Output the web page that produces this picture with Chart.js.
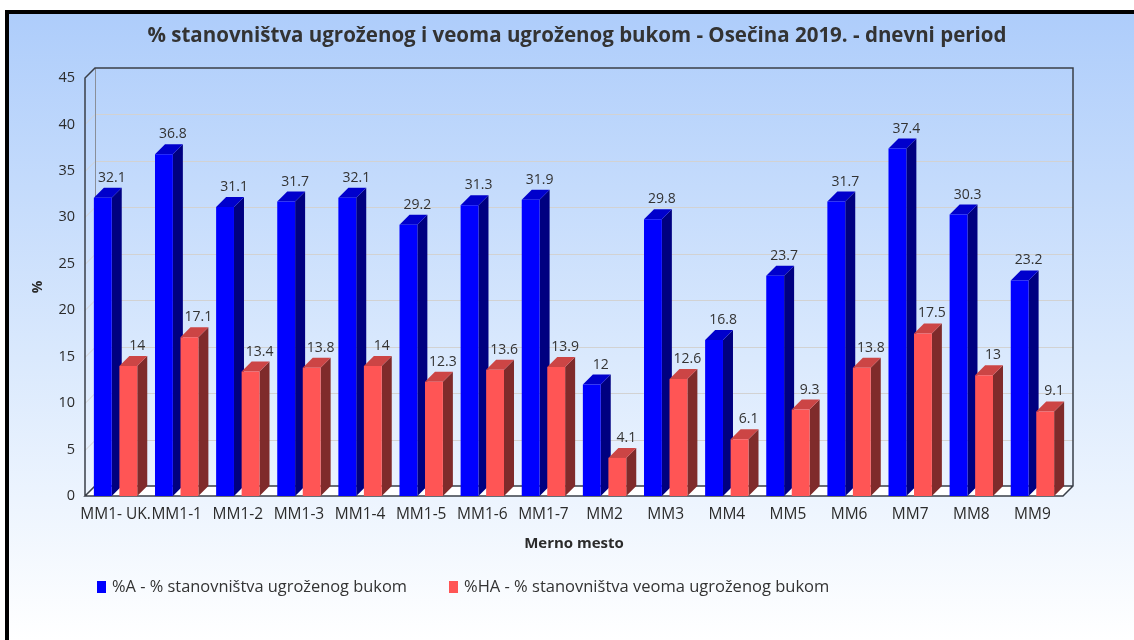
<!DOCTYPE html>
<html>
<head>
<meta charset="utf-8">
<script src="https://cdn.jsdelivr.net/npm/chart.js@4/dist/chart.umd.min.js"></script>
<style>
  html, body { margin: 0; padding: 0; background: #ffffff; }
  #wrap { position: relative; width: 1134px; height: 640px; }
  canvas { display: block; }
</style>
</head>
<body>
<div id="wrap"><canvas id="c" width="1134" height="640"></canvas></div>
<script>
const categories = ['MM1- UK.', 'MM1-1', 'MM1-2', 'MM1-3', 'MM1-4', 'MM1-5', 'MM1-6', 'MM1-7',
                    'MM2', 'MM3', 'MM4', 'MM5', 'MM6', 'MM7', 'MM8', 'MM9'];
const seriesA  = [32.1, 36.8, 31.1, 31.7, 32.1, 29.2, 31.3, 31.9, 12, 29.8, 16.8, 23.7, 31.7, 37.4, 30.3, 23.2];
const seriesHA = [14, 17.1, 13.4, 13.8, 14, 12.3, 13.6, 13.9, 4.1, 12.6, 6.1, 9.3, 13.8, 17.5, 13, 9.1];
const labelA  = '%A - % stanovništva ugroženog bukom';
const labelHA = '%HA - % stanovništva veoma ugroženog bukom';
const titleText = '% stanovništva ugroženog i veoma ugroženog bukom - Osečina 2019. - dnevni period';
const yTicks = [0, 5, 10, 15, 20, 25, 30, 35, 40, 45];

const FONT = "'Open Sans', 'DejaVu Sans', sans-serif";
const DEPTH = 10;   // 3D depth offset in px (right and up)

const faceColors = [
  { front: '#0000ff', top: '#0000cc', side: '#000080' },
  { front: '#ff5555', top: '#cc4545', side: '#7f2b2b' }
];

// Frame, background gradient, title, 3D walls and floor
const backdrop = {
  id: 'backdrop',
  beforeDraw(chart) {
    const ctx = chart.ctx;
    const W = chart.width, H = chart.height;
    ctx.save();
    ctx.fillStyle = '#ffffff';
    ctx.fillRect(0, 0, W, H);
    const g = ctx.createLinearGradient(0, 14, 0, H);
    g.addColorStop(0, '#aecdfb');
    g.addColorStop(0.55, '#dae9fd');
    g.addColorStop(1, '#ffffff');
    ctx.fillStyle = g;
    ctx.fillRect(9, 14, W - 9, H - 14);
    ctx.fillStyle = '#000000';
    ctx.fillRect(5, 10, W - 5, 4);
    ctx.fillRect(5, 10, 4, H - 10);

    ctx.fillStyle = '#333333';
    ctx.font = 'bold 20.5px ' + FONT;
    ctx.textAlign = 'center';
    ctx.textBaseline = 'middle';
    ctx.fillText(titleText, 577, 36);
    ctx.restore();
  },
  beforeDatasetsDraw(chart) {
    const ctx = chart.ctx;
    const ys = chart.scales.y;
    const a = chart.chartArea;
    const L = a.left, R = a.right, B = a.bottom, T = a.top;
    ctx.save();
    // floor
    ctx.fillStyle = '#ffffff';
    ctx.beginPath();
    ctx.moveTo(L, B); ctx.lineTo(R, B); ctx.lineTo(R + DEPTH, B - DEPTH); ctx.lineTo(L + DEPTH, B - DEPTH);
    ctx.closePath(); ctx.fill();
    // gridlines on back and side walls
    ctx.strokeStyle = '#d2d2d2';
    ctx.lineWidth = 1;
    yTicks.forEach(v => {
      if (v === 0 || v === 45) return;
      const y = Math.round(ys.getPixelForValue(v)) + 0.5;
      ctx.beginPath();
      ctx.moveTo(L, y); ctx.lineTo(L + DEPTH, y - DEPTH); ctx.lineTo(R + DEPTH, y - DEPTH);
      ctx.stroke();
    });
    // back wall left edge
    ctx.strokeStyle = '#8a8f99';
    ctx.beginPath();
    ctx.moveTo(L + DEPTH + 0.5, T - DEPTH); ctx.lineTo(L + DEPTH + 0.5, B - DEPTH);
    ctx.stroke();
    // outline of walls and floor
    ctx.strokeStyle = '#3a3f48';
    ctx.lineWidth = 1.5;
    ctx.beginPath();
    ctx.moveTo(L, B); ctx.lineTo(L, T); ctx.lineTo(L + DEPTH, T - DEPTH);
    ctx.lineTo(R + DEPTH, T - DEPTH); ctx.lineTo(R + DEPTH, B - DEPTH);
    ctx.lineTo(R, B); ctx.lineTo(L, B); ctx.lineTo(L + DEPTH, B - DEPTH); ctx.lineTo(R + DEPTH, B - DEPTH);
    ctx.stroke();

    // side and top faces of bars (front faces are drawn by Chart.js)
    chart.data.datasets.forEach((ds, di) => {
      const meta = chart.getDatasetMeta(di);
      const c = faceColors[di];
      meta.data.forEach(bar => {
        const p = bar.getProps(['x', 'y', 'base', 'width'], true);
        const x0 = p.x - p.width / 2, x1 = p.x + p.width / 2;
        const yt = p.y, yb = p.base;
        ctx.fillStyle = c.side;
        ctx.beginPath();
        ctx.moveTo(x1, yb); ctx.lineTo(x1, yt); ctx.lineTo(x1 + DEPTH, yt - DEPTH); ctx.lineTo(x1 + DEPTH, yb - DEPTH);
        ctx.closePath(); ctx.fill();
        ctx.fillStyle = c.top;
        ctx.beginPath();
        ctx.moveTo(x0, yt); ctx.lineTo(x1, yt); ctx.lineTo(x1 + DEPTH, yt - DEPTH); ctx.lineTo(x0 + DEPTH, yt - DEPTH);
        ctx.closePath(); ctx.fill();
      });
    });
    ctx.restore();
  },
  afterDatasetsDraw(chart) {
    const ctx = chart.ctx;
    ctx.save();
    ctx.font = '14px ' + FONT;
    ctx.fillStyle = '#333333';
    ctx.textAlign = 'center';
    ctx.textBaseline = 'alphabetic';
    chart.data.datasets.forEach((ds, di) => {
      const meta = chart.getDatasetMeta(di);
      meta.data.forEach((bar, i) => {
        const p = bar.getProps(['x', 'y'], true);
        ctx.fillText(String(ds.data[i]), p.x + 9, p.y - DEPTH - 6);
      });
    });

    // legend
    ctx.font = '16.5px ' + FONT;
    ctx.textAlign = 'left';
    ctx.textBaseline = 'middle';
    const items = [
      { x: 97, w: 295, text: chart.data.datasets[0].label, color: faceColors[0].front },
      { x: 449, w: 366, text: chart.data.datasets[1].label, color: faceColors[1].front }
    ];
    items.forEach(it => {
      ctx.fillStyle = it.color;
      ctx.fillRect(it.x, 581, 9, 12);
      ctx.fillStyle = '#333333';
      ctx.fillText(it.text, it.x + 15, 587, it.w);
    });
    ctx.restore();
  }
};

new Chart(document.getElementById('c'), {
  type: 'bar',
  data: {
    labels: categories,
    datasets: [
      { label: labelA, data: seriesA, backgroundColor: faceColors[0].front, borderWidth: 0,
        categoryPercentage: 0.835, barPercentage: 0.7 },
      { label: labelHA, data: seriesHA, backgroundColor: faceColors[1].front, borderWidth: 0,
        categoryPercentage: 0.835, barPercentage: 0.7 }
    ]
  },
  options: {
    responsive: false,
    animation: false,
    layout: { padding: { left: 0, right: 71, top: 78, bottom: 0 } },
    plugins: {
      legend: { display: false },
      title: { display: false },
      tooltip: { enabled: false }
    },
    scales: {
      x: {
        grid: { display: false, drawTicks: false },
        border: { display: false },
        ticks: { color: '#2b2b2b', font: { family: FONT, size: 15.5 }, padding: 9, maxRotation: 0, autoSkip: false },
        title: { display: true, text: 'Merno mesto', color: '#2b2b2b',
                 font: { family: FONT, size: 15, weight: 'bold' }, padding: { top: 0, bottom: 87 } },
        afterFit(scale) { scale.height = 144; }
      },
      y: {
        min: 0, max: 45,
        afterBuildTicks(scale) { scale.ticks = yTicks.map(v => ({ value: v })); },
        grid: { display: false, drawTicks: false },
        border: { display: false },
        ticks: { color: '#2b2b2b', font: { family: FONT, size: 14.5 }, padding: 10 },
        title: { display: true, text: '%', color: '#2b2b2b',
                 font: { family: FONT, size: 14, weight: 'bold' }, padding: { top: 30, bottom: 0 } },
        afterFit(scale) { scale.width = 85; }
      }
    }
  },
  plugins: [backdrop]
});
</script>
</body>
</html>
